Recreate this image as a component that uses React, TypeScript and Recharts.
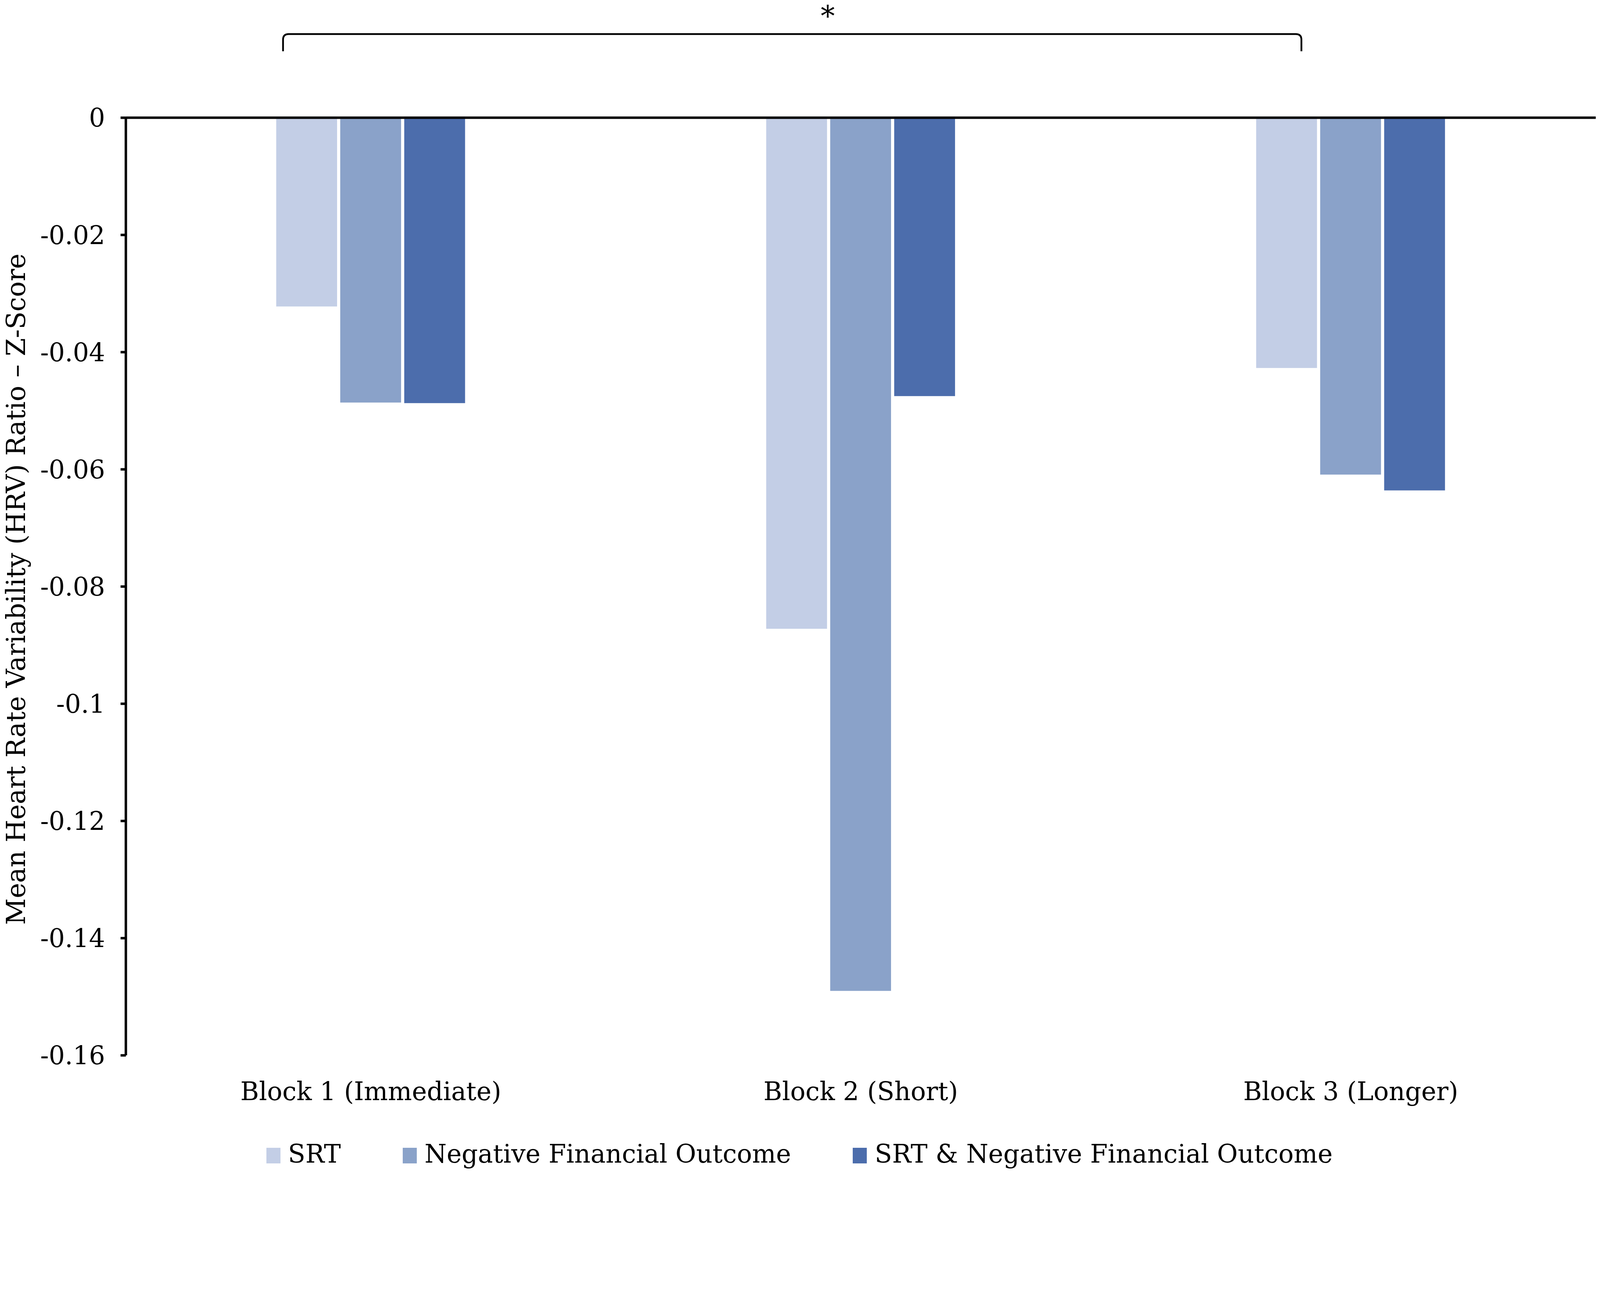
import { BarChart, Bar, XAxis, YAxis, ReferenceLine, Legend } from 'recharts'

const BLOCKS = ['Block 1 (Immediate)', 'Block 2 (Short)', 'Block 3 (Longer)']
const SRT = [-0.0322, -0.0872, -0.0427]
const NEG_OUTCOME = [-0.0486, -0.149, -0.0609]
const SRT_AND_NEG = [-0.0487, -0.0475, -0.0636]
const Y_TICKS = [0, -0.02, -0.04, -0.06, -0.08, -0.1, -0.12, -0.14, -0.16]

const SERIES = [
  { key: 'srt', name: 'SRT', color: '#c3cee6' },
  { key: 'neg', name: 'Negative Financial Outcome', color: '#8aa2c9' },
  { key: 'both', name: 'SRT & Negative Financial Outcome', color: '#4c6dac' },
]

const data = BLOCKS.map((block, i) => ({
  block,
  srt: SRT[i],
  neg: NEG_OUTCOME[i],
  both: SRT_AND_NEG[i],
}))

const FONT = "'DejaVu Serif', serif"

// layout is worked out for a 4550x3339 page, scaled to the real viewport
const S = typeof window !== 'undefined'
  ? Math.min(window.innerWidth / 4550, window.innerHeight / 3339)
  : 1
const px = (v: number) => v * S

const W = px(4534)
const H = px(3323)

function LegendRow() {
  return (
    <div style={{ display: 'flex', justifyContent: 'center', alignItems: 'center', height: px(100), fontFamily: FONT, fontSize: px(72), color: '#000' }}>
      {SERIES.map((s, i) => (
        <div key={s.key} style={{ display: 'flex', alignItems: 'center', marginRight: i < SERIES.length - 1 ? px(176) : 0 }}>
          <span style={{ width: px(40), height: px(44), background: s.color, marginRight: px(22), marginTop: px(10) }} />
          <span>{s.name}</span>
        </div>
      ))}
    </div>
  )
}

export default function App() {
  return (
    <div style={{ position: 'relative', width: W, height: H, background: '#fff' }}>
      <BarChart
        width={W}
        height={H}
        data={data}
        margin={{ top: px(326), right: px(5), left: 0, bottom: 0 }}
        barSize={px(173)}
        barGap={px(9)}
      >
        <XAxis
          dataKey="block"
          axisLine={false}
          tickLine={false}
          tickSize={0}
          tickMargin={px(76)}
          height={px(230)}
          tick={{ fontFamily: FONT, fontSize: px(72), fill: '#000' }}
        />
        <YAxis
          domain={[-0.16, 0]}
          ticks={Y_TICKS}
          interval={0}
          width={px(349)}
          axisLine={{ stroke: '#000', strokeWidth: px(7) }}
          tickLine={{ stroke: '#000', strokeWidth: px(7) }}
          tickSize={px(15)}
          tickMargin={px(44)}
          tick={{ fontFamily: FONT, fontSize: px(72), fill: '#000' }}
        />
        <ReferenceLine y={0} stroke="#000" strokeWidth={px(7)} />
        {SERIES.map(s => (
          <Bar key={s.key} dataKey={s.key} name={s.name} fill={s.color} isAnimationActive={false} />
        ))}
        <Legend verticalAlign="bottom" content={() => <LegendRow />} />
      </BarChart>

      {/* axis title, significance bracket */}
      <svg
        width={W}
        height={H}
        viewBox="0 0 4534 3323"
        style={{ position: 'absolute', left: 0, top: 0, pointerEvents: 'none' }}
      >
        <text
          x={37}
          y={1667}
          transform="rotate(-90 37 1667)"
          textAnchor="middle"
          dominantBaseline="central"
          fontFamily={FONT}
          fontSize={74}
          fill="#000"
        >
          Mean Heart Rate Variability (HRV) Ratio – Z-Score
        </text>
        <path
          d="M 796 137 L 796 104 Q 796 88 812 88 L 3676 88 Q 3692 88 3692 104 L 3692 137"
          fill="none"
          stroke="#000"
          strokeWidth={5}
        />
        <text x={2345} y={66} textAnchor="middle" fontFamily={FONT} fontSize={80} fill="#000">
          *
        </text>
      </svg>
    </div>
  )
}
